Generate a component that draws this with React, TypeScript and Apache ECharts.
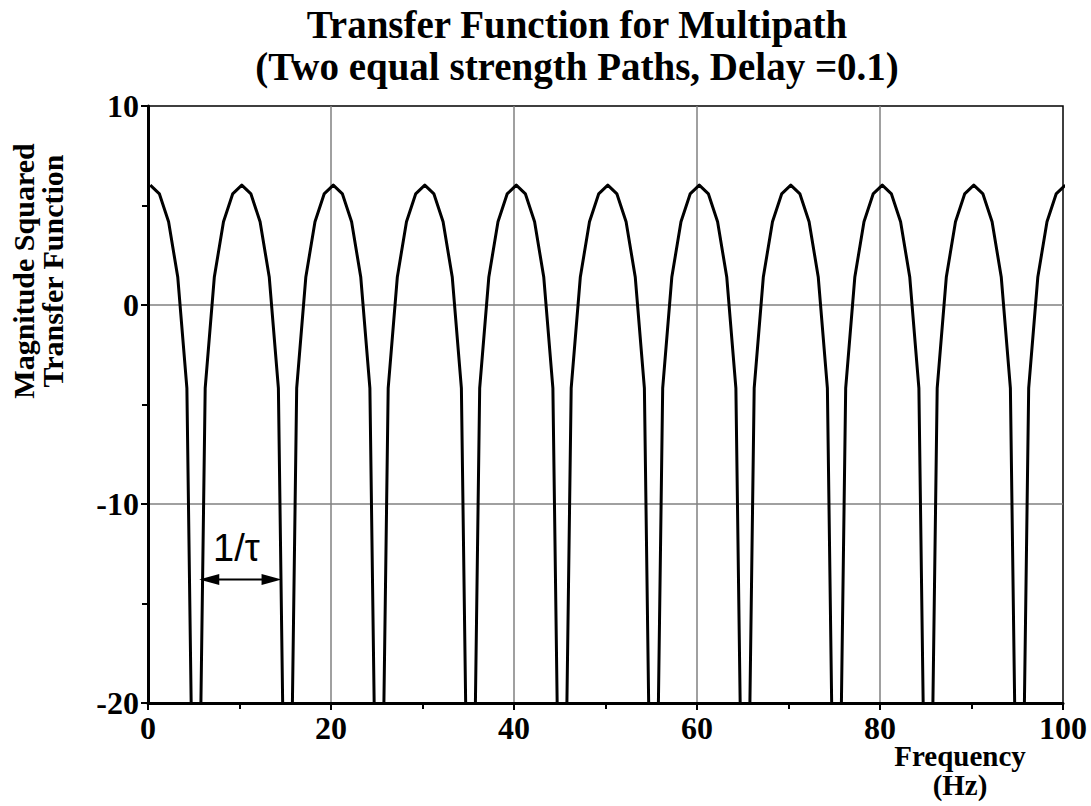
import React, { useEffect, useRef } from "react";
import * as echarts from "echarts";

// Sampled magnitude-squared transfer function of a two-path channel (dB),
// one sample per hertz; the null samples sit well below the -20 dB floor.
const freqHz = [
  0.25, 1.25, 2.25, 3.25, 4.25, 5.25, 6.25, 7.25, 8.25, 9.25,
  10.25, 11.25, 12.25, 13.25, 14.25, 15.25, 16.25, 17.25, 18.25, 19.25,
  20.25, 21.25, 22.25, 23.25, 24.25, 25.25, 26.25, 27.25, 28.25, 29.25,
  30.25, 31.25, 32.25, 33.25, 34.25, 35.25, 36.25, 37.25, 38.25, 39.25,
  40.25, 41.25, 42.25, 43.25, 44.25, 45.25, 46.25, 47.25, 48.25, 49.25,
  50.25, 51.25, 52.25, 53.25, 54.25, 55.25, 56.25, 57.25, 58.25, 59.25,
  60.25, 61.25, 62.25, 63.25, 64.25, 65.25, 66.25, 67.25, 68.25, 69.25,
  70.25, 71.25, 72.25, 73.25, 74.25, 75.25, 76.25, 77.25, 78.25, 79.25,
  80.25, 81.25, 82.25, 83.25, 84.25, 85.25, 86.25, 87.25, 88.25, 89.25,
  90.25, 91.25, 92.25, 93.25, 94.25, 95.25, 96.25, 97.25, 98.25, 99.25,
  100.25,
];

const magDb = [
  6.02, 5.58, 4.18, 1.41, -4.18, -38, -4.18, 1.41, 4.18, 5.58,
  6.02, 5.58, 4.18, 1.41, -4.18, -38, -4.18, 1.41, 4.18, 5.58,
  6.02, 5.58, 4.18, 1.41, -4.18, -38, -4.18, 1.41, 4.18, 5.58,
  6.02, 5.58, 4.18, 1.41, -4.18, -38, -4.18, 1.41, 4.18, 5.58,
  6.02, 5.58, 4.18, 1.41, -4.18, -38, -4.18, 1.41, 4.18, 5.58,
  6.02, 5.58, 4.18, 1.41, -4.18, -38, -4.18, 1.41, 4.18, 5.58,
  6.02, 5.58, 4.18, 1.41, -4.18, -38, -4.18, 1.41, 4.18, 5.58,
  6.02, 5.58, 4.18, 1.41, -4.18, -38, -4.18, 1.41, 4.18, 5.58,
  6.02, 5.58, 4.18, 1.41, -4.18, -38, -4.18, 1.41, 4.18, 5.58,
  6.02, 5.58, 4.18, 1.41, -4.18, -38, -4.18, 1.41, 4.18, 5.58,
  6.02,
];

const xTicks = [0, 20, 40, 60, 80, 100];
const yTicks = [-20, -10, 0, 10];

// Null-to-null spacing annotation
const spanFromHz = 5.6;
const spanToHz = 14.6;
const spanDb = -13.8;
const spanLabel = "1/\u03C4";

const titleLines = ["Transfer Function for Multipath", "(Two equal strength Paths, Delay =0.1)"];
const yName = "Magnitude Squared\nTransfer Function";
const xName = "Frequency\n(Hz)";

export default function App() {
  const ref = useRef<HTMLDivElement>(null);

  useEffect(() => {
    const chart = echarts.init(ref.current!, null, { renderer: "svg" });
    const serif = '"Liberation Serif", "Times New Roman", serif';
    const sans = '"Liberation Sans", Arial, sans-serif';

    const axisCommon = {
      axisLine: { show: true, onZero: false, lineStyle: { color: "#000", width: 3 } },
      axisTick: { show: true, inside: false, length: 7, lineStyle: { color: "#000", width: 2 } },
      minorTick: { show: true, splitNumber: 2, length: 6, lineStyle: { color: "#000", width: 2 } },
      splitLine: {
        show: true,
        showMinLine: false,
        showMaxLine: false,
        lineStyle: { color: "#808080", width: 1.5 },
      },
      axisLabel: {
        color: "#000",
        fontFamily: serif,
        fontWeight: "bold",
        fontSize: 32,
        margin: 9,
      },
    };

    chart.setOption({
      animation: false,
      backgroundColor: "#fff",
      grid: {
        left: 148,
        right: 28,
        top: 106,
        bottom: 103,
        show: true,
        borderColor: "#000",
        borderWidth: 1.5,
        outerBoundsMode: "none",
      },
      xAxis: {
        type: "value",
        min: xTicks[0],
        max: xTicks[xTicks.length - 1],
        interval: xTicks[1] - xTicks[0],
        ...axisCommon,
      },
      yAxis: {
        type: "value",
        min: yTicks[0],
        max: yTicks[yTicks.length - 1],
        interval: yTicks[1] - yTicks[0],
        ...axisCommon,
      },
      series: [
        {
          type: "line",
          data: freqHz.map((f, i) => [f, magDb[i]]),
          showSymbol: false,
          symbol: "none",
          clip: true,
          lineStyle: { color: "#000", width: 3, join: "round" },
          z: 5,
        },
      ],
    });

    const [xa, ya] = chart.convertToPixel({ gridIndex: 0 }, [spanFromHz, spanDb]) as number[];
    const [xb] = chart.convertToPixel({ gridIndex: 0 }, [spanToHz, spanDb]) as number[];
    const headLen = 20;
    const headHalf = 5.5;

    const titleStyle = {
      font: `bold 39px ${serif}`,
      fill: "#000",
      align: "center",
      textAlign: "center",
      verticalAlign: "middle",
      textVerticalAlign: "middle",
    };

    chart.setOption({
      graphic: [
        { type: "text", x: 577, y: 24, style: { ...titleStyle, text: titleLines[0] } },
        { type: "text", x: 577, y: 66, style: { ...titleStyle, text: titleLines[1] } },
        {
          type: "text",
          x: 38,
          y: 271,
          rotation: Math.PI / 2,
          style: {
            text: yName,
            font: `bold 30px ${serif}`,
            fill: "#000",
            align: "center",
            textAlign: "center",
            verticalAlign: "middle",
            textVerticalAlign: "middle",
            lineHeight: 29,
          },
        },
        {
          type: "text",
          x: 960,
          y: 741,
          style: {
            text: xName,
            font: `bold 29px ${serif}`,
            fill: "#000",
            align: "center",
            textAlign: "center",
            verticalAlign: "top",
            textVerticalAlign: "top",
            lineHeight: 29,
          },
        },
        {
          type: "line",
          z: 10,
          shape: { x1: xa + headLen - 2, y1: ya, x2: xb - headLen + 2, y2: ya },
          style: { stroke: "#000", lineWidth: 2 },
        },
        {
          type: "polygon",
          z: 10,
          shape: { points: [[xa, ya], [xa + headLen, ya - headHalf], [xa + headLen, ya + headHalf]] },
          style: { fill: "#000" },
        },
        {
          type: "polygon",
          z: 10,
          shape: { points: [[xb, ya], [xb - headLen, ya - headHalf], [xb - headLen, ya + headHalf]] },
          style: { fill: "#000" },
        },
        {
          type: "text",
          z: 10,
          x: (xa + xb) / 2 - 4,
          y: ya - 13,
          style: {
            text: spanLabel,
            font: `38px ${sans}`,
            fill: "#000",
            align: "center",
            textAlign: "center",
            verticalAlign: "bottom",
            textVerticalAlign: "bottom",
          },
        },
      ],
    });

    return () => chart.dispose();
  }, []);

  return (
    <div
      ref={ref}
      style={{ position: "absolute", left: 0, top: 0, width: 1091, height: 806, background: "#fff" }}
    />
  );
}
